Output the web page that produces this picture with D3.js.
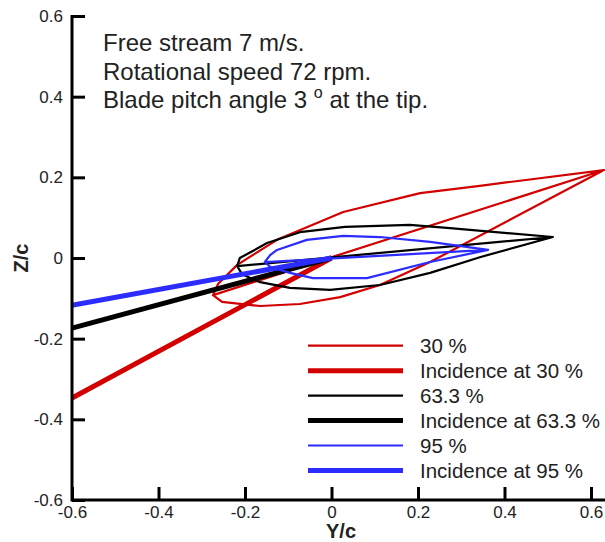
<!DOCTYPE html>
<html>
<head>
<meta charset="utf-8">
<script src="https://cdn.jsdelivr.net/npm/d3@7"></script>
<style>
  body { margin: 0; background: #fff; }
  svg text { font-family: "Liberation Sans", Arial, sans-serif; fill: #222; }
</style>
</head>
<body>
<div id="chart"></div>
<script>
// section outlines, [Y/c, Z/c]; LE -> upper -> TE -> lower -> LE -> chord to TE
const sec30 = [[-0.274,-0.092],[-0.262,-0.064],[-0.218,-0.017],[-0.126,0.045],[0.027,0.114],[0.205,0.161],[0.343,0.179],[0.630,0.218],
  [0.228,-0.010],[0.112,-0.067],[0.020,-0.097],[-0.073,-0.114],[-0.165,-0.119],[-0.253,-0.109],[-0.274,-0.092],[0.630,0.218]];
const sec63 = [[-0.218,-0.020],[-0.212,0.000],[-0.195,0.010],[-0.149,0.037],[-0.073,0.064],[0.031,0.077],[0.181,0.082],[0.274,0.074],[0.512,0.052],
  [0.343,0.002],[0.228,-0.037],[0.112,-0.067],[-0.003,-0.079],[-0.096,-0.074],[-0.165,-0.060],[-0.207,-0.040],[-0.218,-0.020],[0.512,0.052]];
const sec95 = [[-0.154,-0.010],[-0.142,0.007],[-0.126,0.020],[-0.057,0.045],[0.027,0.055],[0.112,0.052],[0.228,0.040],[0.362,0.020],
  [0.228,-0.010],[0.082,-0.050],[-0.043,-0.050],[-0.096,-0.037],[-0.142,-0.022],[-0.154,-0.010],[0.362,0.020]];

// incidence lines, far field -> origin
const inc30 = [[-0.6,-0.347],[0,0]];
const inc63 = [[-0.6,-0.174],[0,0]];
const inc95 = [[-0.6,-0.117],[0,0]];

const seriesNames = ["30 %", "Incidence at 30 %", "63.3 %", "Incidence at 63.3 %", "95 %", "Incidence at 95 %"];
const majorTicks = [-0.6, -0.4, -0.2, 0, 0.2, 0.4, 0.6];
const notes = ["Free stream 7 m/s.", "Rotational speed 72 rpm.", "Blade pitch angle 3 "];

const W = 605, H = 542;
const red = "#d20000", black = "#000", blue = "#2c2cff";
const series = [
  {name: seriesNames[0], data: sec30, color: red, w: 2.2},
  {name: seriesNames[1], data: inc30, color: red, w: 5},
  {name: seriesNames[2], data: sec63, color: black, w: 2.2},
  {name: seriesNames[3], data: inc63, color: black, w: 5},
  {name: seriesNames[4], data: sec95, color: blue, w: 2.2},
  {name: seriesNames[5], data: inc95, color: blue, w: 5}
];

var svg = d3.select("#chart").append("svg")
    .attr("width", W).attr("height", H);

var x = d3.scaleLinear().domain([-0.6, 0.6]).range([72, 591]);
var y = d3.scaleLinear().domain([-0.6, 0.6]).range([500, 16]);

var minorTicks = d3.range(-12, 13).map(d => d * 0.05).filter(v => !majorTicks.some(m => Math.abs(m - v) < 1e-9));

// lines
var line = d3.line().x(d => x(d[0])).y(d => y(d[1]));
svg.append("g").selectAll("path")
  .data(series)
  .enter().append("path")
    .attr("d", d => line(d.data))
    .attr("fill", "none")
    .attr("stroke", d => d.color)
    .attr("stroke-width", d => d.w)
    .attr("stroke-linejoin", "round");

// axes, plain hyphen for negatives like the original
var fmt = d => d === 0 ? "0" : d3.format(".1f")(d).replace("\u2212", "-");

var gx = svg.append("g").attr("transform", "translate(0," + y(-0.6) + ")");
gx.call(d3.axisBottom(x).tickValues(minorTicks).tickSizeInner(-7).tickSizeOuter(0).tickFormat(""));
gx.call(d3.axisBottom(x).tickValues(majorTicks).tickSizeInner(-13).tickSizeOuter(0).tickFormat(fmt));
gx.selectAll("text").attr("y", 6).style("font-size", "17px");

var gy = svg.append("g").attr("transform", "translate(" + x(-0.6) + ",0)");
gy.call(d3.axisLeft(y).tickValues(minorTicks).tickSizeInner(-8).tickSizeOuter(0).tickFormat(""));
gy.call(d3.axisLeft(y).tickValues(majorTicks).tickSizeInner(-13).tickSizeOuter(0).tickFormat(fmt));
gy.selectAll("text").attr("x", -9).style("font-size", "17px");

svg.selectAll(".tick line").attr("stroke", "#000").attr("stroke-width", 1.5);
svg.selectAll(".domain").remove();
svg.selectAll(".tick").filter(d => majorTicks.some(m => Math.abs(m - d) < 1e-9)).select("line").attr("stroke-width", 3);

// axis lines (bottom one runs to the edge of the picture)
svg.append("line").attr("x1", x(-0.6)).attr("x2", W).attr("y1", y(-0.6)).attr("y2", y(-0.6))
  .attr("stroke", "#000").attr("stroke-width", 3);
svg.append("line").attr("x1", x(-0.6)).attr("x2", x(-0.6)).attr("y1", y(0.6) - 1).attr("y2", y(-0.6) + 1.5)
  .attr("stroke", "#000").attr("stroke-width", 3);

// axis titles
svg.append("text")
    .attr("x", 341).attr("y", 538)
    .attr("text-anchor", "middle")
    .style("font-size", "20px").style("font-weight", "bold")
    .text("Y/c");
svg.append("text")
    .attr("transform", "translate(28," + y(0) + ") rotate(-90)")
    .attr("text-anchor", "middle")
    .style("font-size", "20px").style("font-weight", "bold")
    .text("Z/c");

// annotation
var note = svg.append("g").style("font-size", "24px");
note.selectAll("text")
  .data(notes)
  .enter().append("text")
    .attr("x", 103)
    .attr("y", (d, i) => 51 + i * 28.5)
    .text(d => d);
var last = note.selectAll("text").filter((d, i) => i === 2);
last.append("tspan").attr("dy", -10).style("font-size", "16px").text("o");
last.append("tspan").attr("dy", 10).text(" at the tip.");

// legend
var leg = svg.append("g");
var rows = leg.selectAll("g")
  .data(series)
  .enter().append("g")
    .attr("transform", (d, i) => "translate(308," + (345.7 + i * 24.95) + ")");
rows.append("line")
    .attr("x1", 0).attr("x2", 95)
    .attr("stroke", d => d.color)
    .attr("stroke-width", d => d.w);
rows.append("text")
    .attr("x", 112).attr("dy", "0.36em")
    .style("font-size", "20.5px")
    .text(d => d.name);
</script>
</body>
</html>
